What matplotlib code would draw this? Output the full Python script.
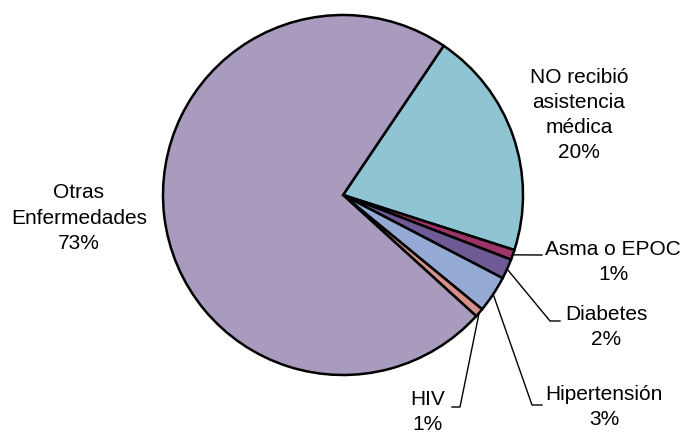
import numpy as np
import matplotlib.pyplot as plt

plt.rcParams['font.family'] = ['Liberation Sans', 'DejaVu Sans']

W, H = 687, 436

categories = ["NO recibió\nasistencia\nmédica", "Asma o EPOC", "Diabetes",
              "Hipertensión", "HIV", "Otras\nEnfermedades"]
shares = [20.5, 0.9, 1.8, 3.3, 0.8, 72.7]
pct_labels = ["20%", "1%", "2%", "3%", "1%", "73%"]
colors = ["#8fc4d3", "#9c3468", "#6e5a94", "#94a9d4", "#d6918c", "#a99bbe"]

# label layout in pixel coords: text centre, optional leader elbow/end
text_pos = [(579, 115), (613, 262), (606, 327), (604, 407), (428, 412), (79, 218)]
leaders = [None,
           [(542, 255)],
           [(550, 321), (560, 321)],
           [(532, 405), (542, 405)],
           [(460, 407), (452, 407)],
           None]


def px(x, y):
    return x, H - y


fig = plt.figure(figsize=(W / 100, H / 100), dpi=100)
ax = fig.add_axes([0, 0, 1, 1])

cx, cy = px(343, 195)
R = 180
start = 56
wedges, _ = ax.pie(shares, colors=colors, startangle=start, counterclock=False,
                   center=(cx, cy), radius=R, frame=True,
                   wedgeprops=dict(edgecolor='black', linewidth=1.8))
ax.set_xlim(0, W)
ax.set_ylim(0, H)
ax.set_aspect('equal')
ax.axis('off')

for i, w in enumerate(wedges):
    mid = np.deg2rad((w.theta1 + w.theta2) / 2)
    tx, ty = px(*text_pos[i])
    ax.text(tx, ty, categories[i] + "\n" + pct_labels[i], ha='center', va='center',
            fontsize=15, linespacing=1.42)
    if leaders[i]:
        xs = [cx + R * np.cos(mid)]
        ys = [cy + R * np.sin(mid)]
        for p in leaders[i]:
            x, y = px(*p)
            xs.append(x)
            ys.append(y)
        ax.plot(xs, ys, color='black', linewidth=1.0)

fig.savefig("out.png", dpi=100)
